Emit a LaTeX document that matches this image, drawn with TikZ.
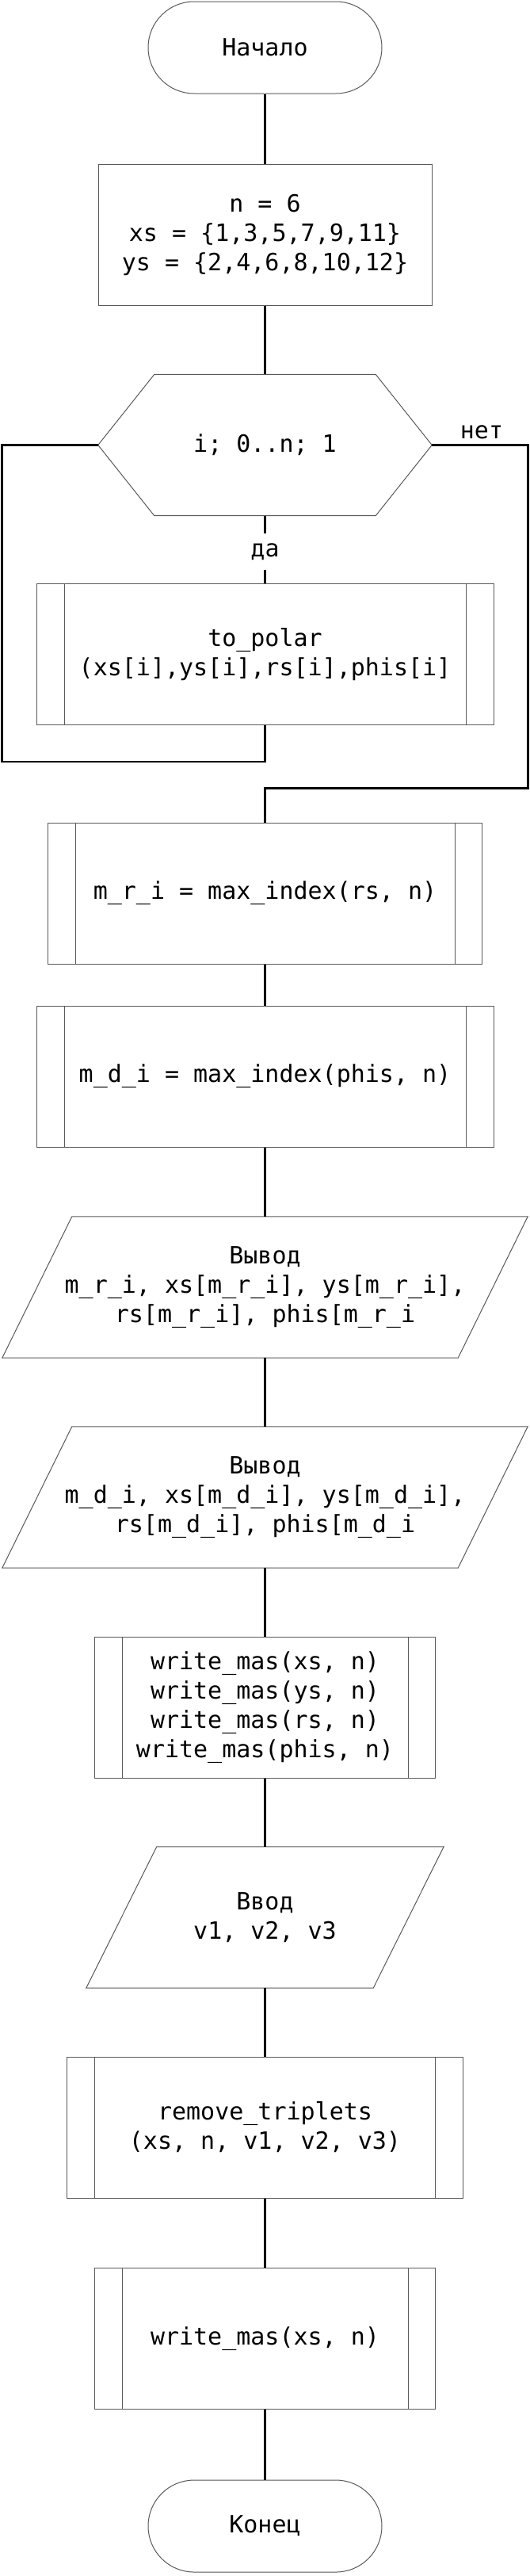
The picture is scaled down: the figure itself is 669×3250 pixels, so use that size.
\documentclass[tikz,border=0pt]{standalone}
\usepackage{fontspec}
\setmainfont{DejaVu Sans Mono}
\usetikzlibrary{calc}
\newcommand\substripes[2]{%
  \draw[shapeline] ([xshift=#2]#1.north west) -- ([xshift=#2]#1.south west);
  \draw[shapeline] ([xshift=-#2]#1.north east) -- ([xshift=-#2]#1.south east);}
\newcommand\parashape[2]{%
  \draw[shapeline] ([xshift=#2]#1.north west) -- ([xshift=#2]#1.north east)
    -- ([xshift=-#2]#1.south east) -- ([xshift=-#2]#1.south west) -- cycle;}
\begin{document}
\begin{tikzpicture}[x=1pt,y=-1pt,
  every node/.style={font=\fontsize{30}{37}\selectfont, align=center, inner sep=0pt},
  shapeline/.style={draw=black!65, line width=1pt},
  box/.style={shapeline, rectangle, minimum height=178pt},
  term/.style={shapeline, rectangle, rounded corners=58pt, minimum width=295pt, minimum height=116pt},
  ghost/.style={rectangle, minimum height=178pt},
  conn/.style={line width=2.8pt, black},
]
\fill[white] (0,0) rectangle (669,3250);
\useasboundingbox (0,0) rectangle (669,3250);

\node[term] (start) at (334.5,60) {Начало};
\node[box, minimum width=421pt] (init) at (334.5,296) {n = 6\\xs = \{1,3,5,7,9,11\}\\ys = \{2,4,6,8,10,12\}};

\node[ghost, minimum width=421pt] (hex) at (334.5,561.5) {i; 0..n; 1};
\draw[shapeline] (hex.west) -- ([xshift=71pt]hex.north west) -- ([xshift=-71pt]hex.north east)
  -- (hex.east) -- ([xshift=-71pt]hex.south east) -- ([xshift=71pt]hex.south west) -- cycle;

\node[anchor=south] (net) at (608,554) {нет};
\node[minimum height=46pt] (da) at (334.5,696) {да};

\node[box, minimum width=577pt] (polar) at (334.5,825.5) {to\_polar\\(xs[i],ys[i],rs[i],phis[i]};
\substripes{polar}{35.5pt}

\node[box, minimum width=548pt] (mri) at (334.5,1127) {m\_r\_i = max\_index(rs, n)};
\substripes{mri}{35pt}

\node[box, minimum width=577pt] (mdi) at (334.5,1358) {m\_d\_i = max\_index(phis, n)};
\substripes{mdi}{35.5pt}

\node[ghost, minimum width=575pt] (out1) at (334.5,1624) {Вывод\\m\_r\_i, xs[m\_r\_i], ys[m\_r\_i],\\rs[m\_r\_i], phis[m\_r\_i};
\parashape{out1}{44pt}

\node[ghost, minimum width=575pt] (out2) at (334.5,1889) {Вывод\\m\_d\_i, xs[m\_d\_i], ys[m\_d\_i],\\rs[m\_d\_i], phis[m\_d\_i};
\parashape{out2}{44pt}

\node[box, minimum width=430pt] (wm4) at (334.5,2154) {write\_mas(xs, n)\\write\_mas(ys, n)\\write\_mas(rs, n)\\write\_mas(phis, n)};
\substripes{wm4}{35pt}

\node[ghost, minimum width=362pt] (inp) at (334.5,2419) {Ввод\\v1, v2, v3};
\parashape{inp}{44.5pt}

\node[box, minimum width=500pt] (rem) at (334.5,2684) {remove\_triplets\\(xs, n, v1, v2, v3)};
\substripes{rem}{35.5pt}

\node[box, minimum width=430pt] (wm1) at (334.5,2950.5) {write\_mas(xs, n)};
\substripes{wm1}{35pt}

\node[term] (finish) at (334.5,3187) {Конец};

\coordinate (loopL) at (2.5,961);
\coordinate (loopR) at (666.5,994.5);

\draw[conn] (start.south) -- (init.north);
\draw[conn] (init.south) -- (hex.north);
\draw[conn] (hex.south) -- (da.north);
\draw[conn] (da.south) -- (polar.north);
\draw[conn] (hex.west) -| (loopL) -| (polar.south);
\draw[conn] (hex.east) -| (loopR) -| (mri.north);
\draw[conn] (mri.south) -- (mdi.north);
\draw[conn] (mdi.south) -- (out1.north);
\draw[conn] (out1.south) -- (out2.north);
\draw[conn] (out2.south) -- (wm4.north);
\draw[conn] (wm4.south) -- (inp.north);
\draw[conn] (inp.south) -- (rem.north);
\draw[conn] (rem.south) -- (wm1.north);
\draw[conn] (wm1.south) -- (finish.north);
\end{tikzpicture}
\end{document}
